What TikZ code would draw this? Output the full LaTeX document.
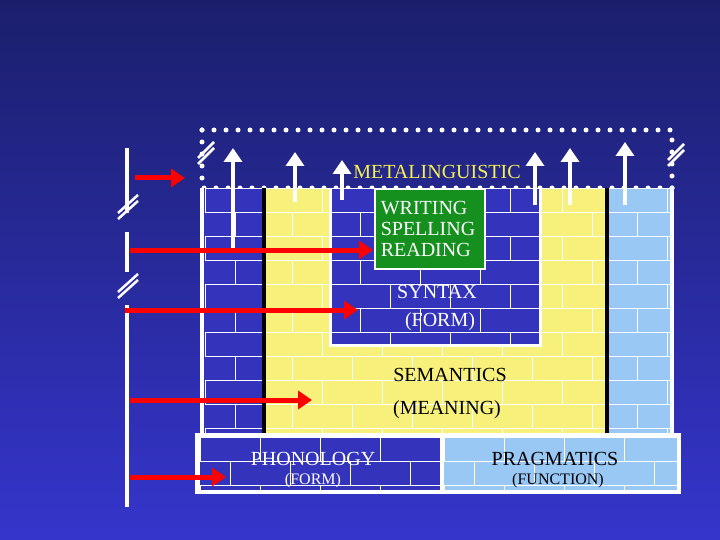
\documentclass[tikz,border=0pt]{standalone}
\usepackage{fontspec}
\setmainfont{Liberation Serif}
\usetikzlibrary{arrows.meta}
\definecolor{bgtop}{HTML}{1B1F6B}
\definecolor{bgbot}{HTML}{3535CC}
\definecolor{brickblue}{HTML}{3333BB}
\definecolor{brickyel}{HTML}{F7F07A}
\definecolor{bricklb}{HTML}{99C8F5}
\definecolor{greenbox}{HTML}{15901F}
\definecolor{metayel}{HTML}{F5F050}
\tikzset{x=1pt,y=-1pt,
 redarrow/.style={draw=red,line width=5pt,-{Triangle[length=14pt,width=18pt]}},
 uparrow/.style={draw=white,line width=4pt,-{Triangle[length=14pt,width=18pt]}},
 lbl/.style={font=\fontsize{20}{20}\selectfont},
 sublbl/.style={font=\fontsize{16}{16}\selectfont},
 slashmark/.style={draw=white,line width=2.5pt}}
\newcommand{\bricks}[4]{% x1 y1 x2 y2, white mortar
 \begin{scope}
 \clip (#1,#2) rectangle (#3,#4);
 \foreach \r in {0,...,14}{
  \pgfmathsetmacro{\yy}{#2+\r*24}
  \draw[white,line width=0.8pt] (#1-5,\yy) -- (#3+5,\yy);
  \pgfmathsetmacro{\off}{mod(\r,2)*30}
  \foreach \c in {0,...,10}{
   \draw[white,line width=0.8pt] (#1+\off+\c*60,\yy) -- (#1+\off+\c*60,\yy+24);}
 }
 \end{scope}}
\begin{document}
\begin{tikzpicture}
\shade[top color=bgtop,bottom color=bgbot] (0,0) rectangle (720,540);
\useasboundingbox (0,0) rectangle (720,540);
% dotted frame
\draw[white,line width=5pt,line cap=round,dash pattern=on 0pt off 12pt] (202,130) -- (672,130) -- (672,188);
\draw[white,line width=5pt,line cap=round,dash pattern=on 0pt off 12pt] (202,130) -- (202,188) -- (672,188);
% wall
\fill[brickblue] (200,188) rectangle (672,435);
\bricks{205}{188}{262}{435}
\fill[bricklb] (607,188) rectangle (672,435);
\bricks{607}{188}{672}{435}
\draw[white,line width=4pt] (202,188) -- (202,435);
\draw[white,line width=4pt] (672,188) -- (672,435);
% yellow U
\fill[brickyel] (262,188) rectangle (607,435);
\bricks{262}{188}{607}{435}
\fill[brickblue] (330,188) rectangle (540,345);
\bricks{330}{188}{540}{345}
\draw[white,line width=3pt] (330,188) -- (330,345) -- (540,345) -- (540,188);
\draw[black,line width=4pt] (264,188) -- (264,435) -- (607,435) -- (607,188);
% green box
\node[fill=greenbox,draw=white,line width=1.5pt,minimum width=110pt,minimum height=80pt,inner sep=0pt] (wr) at (430,229) {};
\node[lbl,white,align=left] (wrt) at (428,229) {WRITING\\[1pt]SPELLING\\[1pt]READING};
% bottom row
\fill[white] (195,433) rectangle (681,494);
\fill[brickblue] (200,437) rectangle (440,490);
\bricks{200}{437}{440}{490}
\fill[bricklb] (444,437) rectangle (677,490);
\bricks{444}{437}{677}{490}
% texts
\node[lbl,metayel] (meta) at (437,172) {METALINGUISTIC};
\node[lbl,white] (syn) at (437,292) {SYNTAX};
\node[lbl,white] (synf) at (440,322) {(FORM)};
\node[lbl,black] (sem) at (450,375) {SEMANTICS};
\node[lbl,black] (mean) at (447,410) {(MEANING)};
\node[lbl,white] (pho) at (313,459) {PHONOLOGY};
\node[sublbl,white] (phof) at (313,481) {(FORM)};
\node[lbl,black] (pra) at (555,459) {PRAGMATICS};
\node[sublbl,black] (praf) at (558,481) {(FUNCTION)};
% up arrows
\foreach \n/\x/\a/\b in {u1/233/248/148,u2/295/202/152,u3/342/200/160,u4/535/205/152,u5/570/205/148,u6/625/205/142}{
 \coordinate (\n s) at (\x,\a); \coordinate (\n e) at (\x,\b);
 \draw[uparrow] (\n s) -- (\n e);}
% left bar
\draw[white,line width=4pt] (127,148) -- (127,213);
\draw[white,line width=4pt] (127,232) -- (127,272);
\draw[white,line width=4pt] (127,305) -- (127,507);
\draw[slashmark] (118,213) -- (138,195); \draw[slashmark] (118,219) -- (138,201);
\draw[slashmark] (118,292) -- (138,274); \draw[slashmark] (118,298) -- (138,280);
\draw[slashmark] (198,158) -- (214,142); \draw[slashmark] (198,164) -- (214,148);
\draw[slashmark] (668,160) -- (684,144); \draw[slashmark] (668,166) -- (684,150);
% red arrows
\foreach \n/\a/\b/\y in {r1/135/185/178,r2/130/373/250,r3/125/358/310,r4/130/312/400,r5/130/226/477}{
 \coordinate (\n s) at (\a,\y); \coordinate (\n e) at (\b,\y);
 \draw[redarrow] (\n s) -- (\n e);}
\end{tikzpicture}
\end{document}
